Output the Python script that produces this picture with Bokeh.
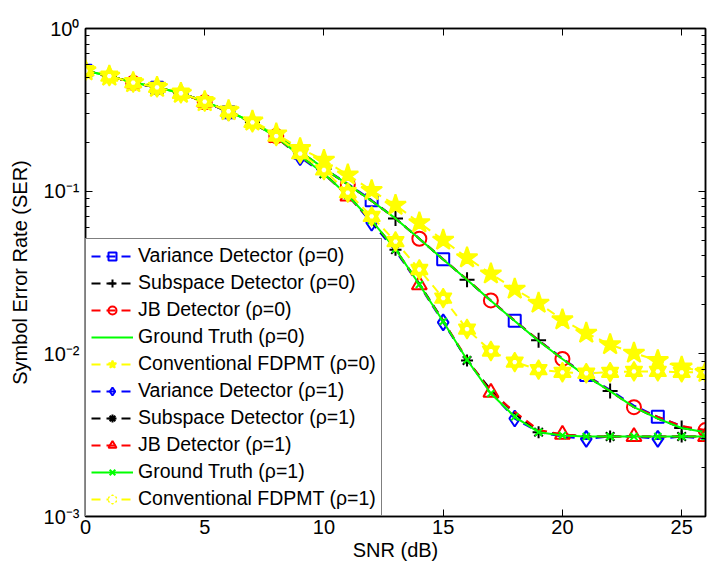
from bokeh.plotting import figure
from bokeh.models import (FixedTicker, CustomJSTickFormatter, Legend, LegendItem,
                          LinearAxis, LogAxis, Range1d)
from bokeh.embed import file_html
from bokeh.resources import INLINE

# ---------------- data ----------------
snr = list(range(27))

var0 = [0.55, 0.51, 0.465, 0.432, 0.40, 0.355, 0.306, 0.265, 0.22, 0.172, 0.138, 0.111, 0.088,
        0.068, 0.051, 0.0382, 0.0286, 0.0213, 0.0160, 0.0121, 0.0094, 0.0074, 0.0060, 0.0048,
        0.0041, 0.0036, 0.0033]
sub0 = [0.55, 0.51, 0.465, 0.435, 0.40, 0.355, 0.31, 0.265, 0.22, 0.175, 0.137, 0.110, 0.087,
        0.068, 0.051, 0.0380, 0.0285, 0.0212, 0.0159, 0.0121, 0.0093, 0.0073, 0.0059, 0.0047,
        0.0040, 0.0035, 0.0033]
jb0 = [0.55, 0.51, 0.463, 0.435, 0.40, 0.352, 0.31, 0.265, 0.218, 0.175, 0.138, 0.110, 0.087,
       0.068, 0.051, 0.0381, 0.0287, 0.0213, 0.0160, 0.0121, 0.0093, 0.0074, 0.0059, 0.0047,
       0.0041, 0.0036, 0.0034]
gt0 = [0.55, 0.51, 0.465, 0.435, 0.40, 0.355, 0.31, 0.265, 0.22, 0.175, 0.138, 0.110, 0.087,
       0.068, 0.051, 0.038, 0.0285, 0.0212, 0.0159, 0.0120, 0.0093, 0.0073, 0.0059, 0.0047,
       0.0040, 0.0035, 0.0033]
conv0 = [0.55, 0.51, 0.465, 0.435, 0.40, 0.355, 0.313, 0.27, 0.225, 0.183, 0.155, 0.126, 0.101,
         0.082, 0.064, 0.050, 0.039, 0.031, 0.025, 0.0205, 0.0162, 0.0134, 0.0114, 0.0101,
         0.0091, 0.0083, 0.0077]

var1 = [0.55, 0.51, 0.465, 0.432, 0.40, 0.355, 0.306, 0.265, 0.215, 0.162, 0.127, 0.094, 0.064,
        0.043, 0.0264, 0.0156, 0.0092, 0.0058, 0.0040, 0.0033, 0.0031, 0.0030, 0.0031, 0.0031,
        0.0030, 0.0031, 0.0030]
sub1 = [0.55, 0.51, 0.465, 0.435, 0.40, 0.355, 0.31, 0.265, 0.215, 0.165, 0.128, 0.095, 0.065,
        0.0437, 0.027, 0.0160, 0.0091, 0.0060, 0.0043, 0.0033, 0.0032, 0.0031, 0.0031, 0.0031,
        0.0031, 0.0031, 0.0031]
jb1 = [0.55, 0.51, 0.463, 0.435, 0.40, 0.352, 0.31, 0.265, 0.213, 0.165, 0.128, 0.093, 0.066,
       0.044, 0.0265, 0.0159, 0.0093, 0.0058, 0.0044, 0.0034, 0.0032, 0.0031, 0.0031, 0.0031,
       0.0031, 0.0031, 0.0031]
gt1 = [0.55, 0.51, 0.465, 0.435, 0.40, 0.355, 0.31, 0.265, 0.215, 0.165, 0.128, 0.094, 0.066,
       0.044, 0.0267, 0.0158, 0.0092, 0.0057, 0.0041, 0.0033, 0.00315, 0.0031, 0.0031, 0.0031,
       0.0031, 0.0031, 0.0031]
conv1 = [0.55, 0.51, 0.465, 0.435, 0.40, 0.355, 0.31, 0.265, 0.218, 0.17, 0.135, 0.098, 0.070,
         0.049, 0.033, 0.022, 0.0142, 0.0104, 0.0089, 0.0080, 0.0077, 0.0076, 0.0077, 0.0078,
         0.0078, 0.0077, 0.0077]

x_ticks = [0, 5, 10, 15, 20, 25]
y_major = [0.001, 0.01, 0.1, 1.0]
y_minor = [k * 10.0 ** e for e in (-3, -2, -1) for k in range(2, 10)]

labels = ["Variance Detector (\u03c1=0)", "Subspace Detector (\u03c1=0)", "JB Detector (\u03c1=0)",
          "Ground Truth (\u03c1=0)", "Conventional FDPMT (\u03c1=0)",
          "Variance Detector (\u03c1=1)", "Subspace Detector (\u03c1=1)", "JB Detector (\u03c1=1)",
          "Ground Truth (\u03c1=1)", "Conventional FDPMT (\u03c1=1)"]

BLUE, BLACK, RED, GREEN, YELLOW = "#0000ff", "#000000", "#ff0000", "#00ff00", "#ffff00"
FONT = "Liberation Sans"
DASH = "9 6"

# ---------------- figure ----------------
p = figure(width=707, height=566, y_axis_type="log",
           x_range=Range1d(0, 26), y_range=Range1d(1e-3, 1.0),
           output_backend="svg", toolbar_location=None,
           min_border_left=85, min_border_right=2, min_border_top=28, min_border_bottom=50)
p.grid.visible = False
p.outline_line_color = "black"
p.outline_line_width = 1.5
p.background_fill_color = "white"
p.border_fill_color = "white"

xt = FixedTicker(ticks=x_ticks)
yt = FixedTicker(ticks=y_major, minor_ticks=y_minor)

fmt = CustomJSTickFormatter(code="""
const e = Math.round(Math.log10(tick));
const m = {'-':'\\u207b','0':'\\u2070','1':'\\u00b9','2':'\\u00b2','3':'\\u00b3'};
return '10' + String(e).split('').map(c => m[c]).join('');
""")
blank = CustomJSTickFormatter(code="return '';")

p.xaxis[0].ticker = xt
p.xaxis[0].axis_label = "SNR (dB)"
p.yaxis[0].ticker = yt
p.yaxis[0].formatter = fmt
p.yaxis[0].axis_label = "Symbol Error Rate (SER)"

def style(ax):
    ax.major_tick_in = 7
    ax.major_tick_out = 0
    ax.minor_tick_in = 4
    ax.minor_tick_out = 0
    ax.axis_line_color = "black"
    ax.axis_line_width = 1.5
    ax.major_tick_line_width = 1
    ax.minor_tick_line_width = 1
    ax.major_label_text_font = FONT
    ax.major_label_text_font_size = "20px"
    ax.major_label_text_color = "black"
    ax.axis_label_text_font = FONT
    ax.axis_label_text_font_size = "20px"
    ax.axis_label_text_font_style = "normal"
    ax.axis_label_text_color = "black"

style(p.xaxis[0])
style(p.yaxis[0])
p.xaxis[0].minor_tick_line_color = None
p.xaxis[0].major_label_standoff = 3
p.xaxis[0].axis_label_standoff = 2
p.yaxis[0].major_label_standoff = 6
p.yaxis[0].axis_label_standoff = 10

ta = LinearAxis(ticker=xt, formatter=blank)
style(ta)
ta.minor_tick_line_color = None
ta.major_label_standoff = 0
ta.major_label_text_font_size = "1px"
p.add_layout(ta, "above")

ra = LogAxis(ticker=yt, formatter=blank)
style(ra)
ra.major_label_standoff = 0
ra.major_label_text_font_size = "1px"
p.add_layout(ra, "right")

items = []

def series(y, color, dashed, label, markers):
    """markers: list of (start_index, marker, size, fill)"""
    rs = []
    lr = p.line(snr, y, line_color=color, line_width=2,
                line_dash=DASH if dashed else "solid")
    rs.append(lr)
    for start, mk, sz, fill in markers:
        r = p.scatter(snr[start::3] if start is not None else snr,
                      y[start::3] if start is not None else y,
                      marker=mk, size=sz, line_color=color, line_width=2,
                      fill_color=fill if fill else None)
        rs.append(r)
    items.append(LegendItem(label=label, renderers=rs))

series(var0, BLUE, True, labels[0], [(0, "square", 12, None)])
series(sub0, BLACK, True, labels[1], [(1, "cross", 15, None)])
series(jb0, RED, True, labels[2], [(2, "circle", 14, None)])
series(gt0, GREEN, False, labels[3], [])
series(conv0, YELLOW, True, labels[4], [(None, "star", 22, YELLOW)])
series(var1, BLUE, True, labels[5], [(0, "diamond", 16, None)])
series(sub1, BLACK, True, labels[6], [(1, "asterisk", 12, None)])
series(jb1, RED, True, labels[7], [(2, "triangle", 15, None)])
series(gt1, GREEN, False, labels[8], [(None, "x", 10, None)])

# hexagram for conventional p=1 : two overlapping triangles
lr = p.line(snr, conv1, line_color=YELLOW, line_width=2, line_dash=DASH)
t1 = p.scatter(snr, conv1, marker="triangle", size=17, line_color=YELLOW,
               line_width=1.5, fill_color=YELLOW)
t2 = p.scatter(snr, conv1, marker="inverted_triangle", size=17, line_color=YELLOW,
               line_width=1.5, fill_color=YELLOW)
t3 = p.scatter(snr, conv1, marker="hex", size=5, line_color=None, fill_color="white")
items.append(LegendItem(label=labels[9], renderers=[lr, t1, t2, t3]))

legend = Legend(items=items, location="bottom_left", margin=0, padding=5, spacing=4,
                label_text_font=FONT, label_text_font_size="19.5px", label_text_color="black",
                glyph_width=42, glyph_height=20, label_height=20, label_standoff=5,
                border_line_color="black", border_line_width=1.2,
                background_fill_color="white", background_fill_alpha=1.0)
p.add_layout(legend)

open("out.html", "w").write(file_html(p, INLINE))
